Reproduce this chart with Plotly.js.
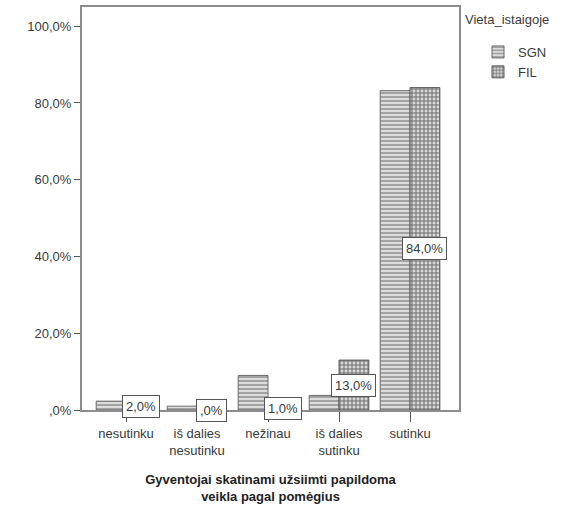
<!DOCTYPE html>
<html>
<head>
<meta charset="utf-8">
<script src="https://cdn.plot.ly/plotly-3.0.1.min.js"></script>
<style>html,body{margin:0;padding:0;background:#fff;}#chart{width:587px;height:508px;}</style>
</head>
<body>
<div id="chart"></div>
<script>
// Answer categories (x axis)
const categories = ["nesutinku", "iš dalies<br>nesutinku", "nežinau", "iš dalies<br>sutinku", "sutinku"];
// Percent of respondents per group
const sgnValues = [2.3, 1.0, 9.0, 3.8, 83.2];
const filValues = [2.0, 0.0, 1.0, 13.0, 84.0];
// Y axis ticks
const yTickVals = [0, 20, 40, 60, 80, 100];
const yTickText = [",0%", "20,0%", "40,0%", "60,0%", "80,0%", "100,0%"];

function pct(v) {
  return v === 0 ? ",0%" : v.toFixed(1).replace(".", ",") + "%";
}

const font = {family: "Liberation Sans, Arial, sans-serif", size: 13, color: "#3a3a3a"};
const bargap = 0.16;
const halfBar = (1 - bargap) / 4;

// plot box in pixels: left 82, right 459, top 7, bottom 410
const px = x => (x - 82) / 377;
const py = y => (410 - y) / 403;

const traces = [
  {
    type: "bar", name: "SGN", x: categories, y: sgnValues,
    marker: {
      color: "#d4d4d4",
      line: {color: "#6a6a6a", width: 1},
      pattern: {shape: "-", fgcolor: "#8a8a8a", bgcolor: "#dcdcdc", size: 4, solidity: 0.35}
    },
    hoverinfo: "skip"
  },
  {
    type: "bar", name: "FIL", x: categories, y: filValues,
    marker: {
      color: "#a0a0a0",
      line: {color: "#5a5a5a", width: 1},
      pattern: {shape: "+", fgcolor: "#6e6e6e", bgcolor: "#d8d8d8", size: 4, solidity: 0.45}
    },
    hoverinfo: "skip"
  }
];

// Value boxes centred on each FIL bar
const annotations = filValues.map((v, i) => ({
  x: i + halfBar, y: v / 2, xref: "x", yref: "y",
  text: pct(v), showarrow: false,
  bgcolor: "#ffffff", bordercolor: "#555555", borderwidth: 1, borderpad: 3,
  font: {family: font.family, size: 13, color: "#3a3a3a"}
}));
annotations.push({
  x: px(463), y: py(20), xref: "paper", yref: "paper", text: "Vieta_istaigoje",
  showarrow: false, xanchor: "left", yanchor: "middle", font: font
});

const layout = {
  width: 587, height: 508,
  margin: {l: 82, r: 128, t: 7, b: 98},
  paper_bgcolor: "#ffffff", plot_bgcolor: "#ffffff",
  font: font,
  barmode: "group", bargap: bargap, bargroupgap: 0,
  showlegend: true,
  legend: {
    x: px(478), y: py(37), xanchor: "left", yanchor: "top",
    font: font, tracegroupgap: 0, itemwidth: 30, bgcolor: "rgba(0,0,0,0)"
  },
  xaxis: {
    type: "category", range: [-0.62, 4.69],
    showline: true, linecolor: "#8c8c8c", linewidth: 2, mirror: true,
    ticks: "outside", ticklen: 10, tickcolor: "#555", tickwidth: 1,
    showgrid: false, zeroline: false, tickfont: font,
    title: {
      text: "<b>Gyventojai skatinami užsiimti papildoma<br>veikla pagal pomėgius</b>",
      font: {family: font.family, size: 13, color: "#222"}, standoff: 18
    }
  },
  yaxis: {
    range: [0, 105], tickvals: yTickVals, ticktext: yTickText,
    showline: true, linecolor: "#8c8c8c", linewidth: 2, mirror: true,
    ticks: "outside", ticklen: 6, tickcolor: "#555", tickwidth: 1,
    showgrid: false, zeroline: false, tickfont: font
  },
  annotations: annotations
};

Plotly.newPlot("chart", traces, layout, {displayModeBar: false, staticPlot: true});
</script>
</body>
</html>
